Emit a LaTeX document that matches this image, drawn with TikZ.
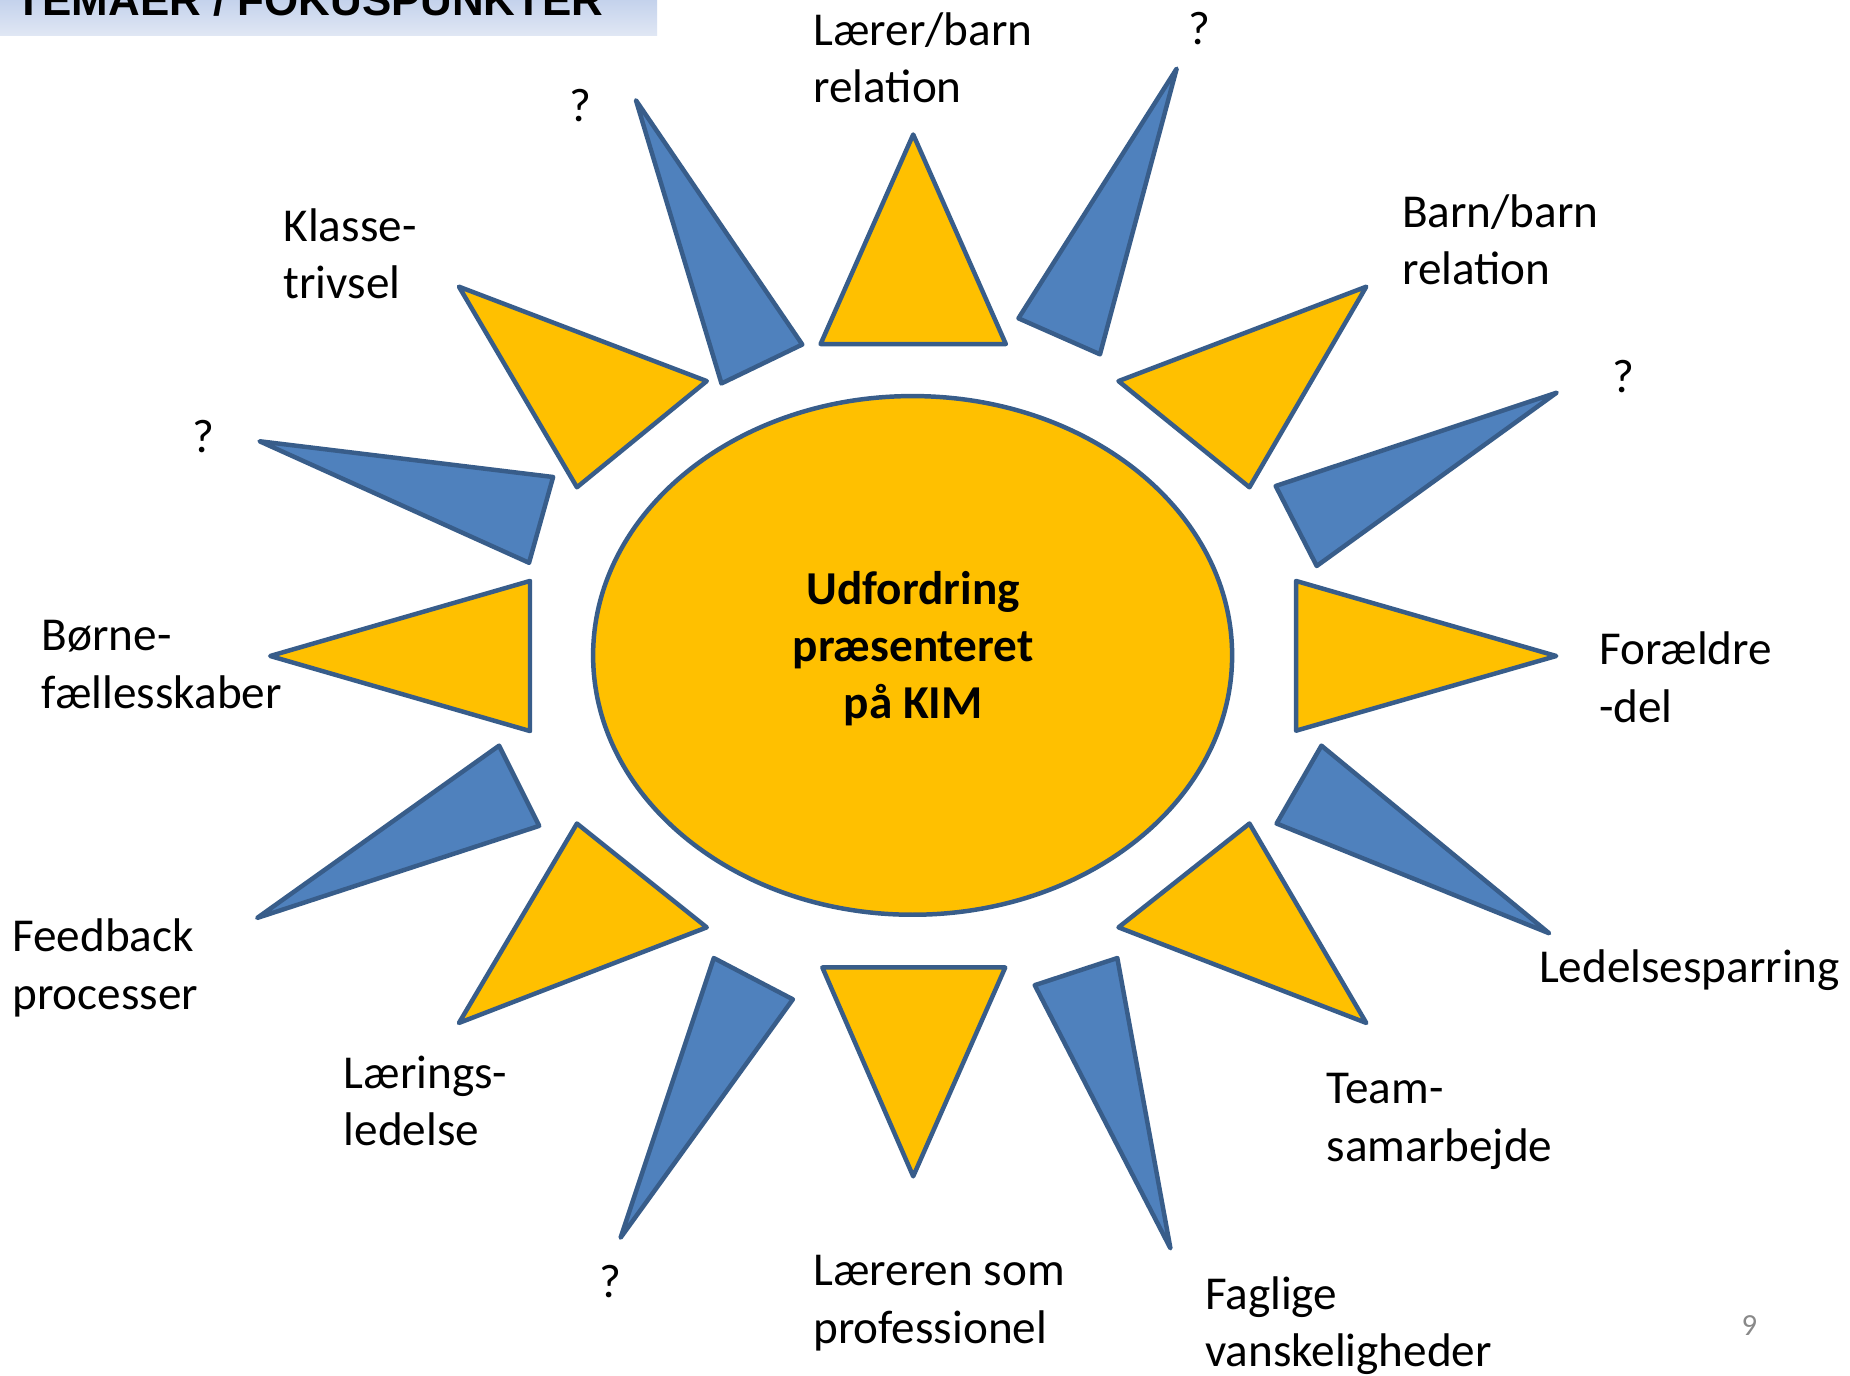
\documentclass[tikz,border=0pt]{standalone}
\usepackage{fontspec}
\setmainfont{Carlito}
\newfontfamily\titlefont{Liberation Sans}
\usetikzlibrary{shapes.geometric}
\definecolor{sunyellow}{HTML}{FFC000}
\definecolor{rayblue}{HTML}{4F81BD}
\definecolor{edgeblue}{HTML}{385D8A}
\definecolor{bannertop}{RGB}{196,210,236}
\definecolor{bannerbot}{RGB}{224,231,244}
\definecolor{pagegrey}{RGB}{137,137,137}
\newcommand\twoline[2]{\begin{tabular}[t]{@{}l@{}}#1\\#2\end{tabular}}
\begin{document}
\begin{tikzpicture}[x=0.5pt,y=-0.5pt,
  ray/.style={draw=edgeblue,line width=1.9pt,line join=round},
  yray/.style={ray,fill=sunyellow},
  bray/.style={ray,fill=rayblue},
  lbl/.style={anchor=base west,inner sep=0pt,font=\fontsize{20}{24.3}\selectfont},
  qm/.style={anchor=base,inner sep=0pt,font=\fontsize{20}{24.3}\selectfont}]
\useasboundingbox (0,0) rectangle (1568,1166);
\fill[white] (0,0) rectangle (1568,1166);
\begin{scope}
\clip (0,0) rectangle (1568,1166);
\shade[top color=bannertop,bottom color=bannerbot] (0,0) rectangle (557,30);
\node[anchor=base west,inner sep=0pt,font=\titlefont\bfseries\fontsize{18.6}{20}\selectfont] (title) at (13,13) {TEMAER / FOKUSPUNKTER};
\end{scope}

% yellow rays
\draw[yray] (774,114) -- (852.5,291.6) -- (695.5,291.6) -- cycle;
\draw[yray] (1158,243) -- (1059,413) -- (948,323) -- cycle;
\draw[yray] (1319,556) -- (1098.5,619.3) -- (1098.5,492.4) -- cycle;
\draw[yray] (1158,867) -- (948,786) -- (1059,698) -- cycle;
\draw[yray] (774,997) -- (697,820) -- (852,820) -- cycle;
\draw[yray] (389,867) -- (489,698) -- (599,786) -- cycle;
\draw[yray] (229,556) -- (449.2,492.4) -- (449.2,619.6) -- cycle;
\draw[yray] (389,243) -- (599,323) -- (489,413) -- cycle;

% blue rays
\draw[bray] (539,85) -- (680,292) -- (611.5,325) -- cycle;
\draw[bray] (997.3,58.2) -- (932.3,300.3) -- (863.2,269.8) -- cycle;
\draw[bray] (1319.4,332.8) -- (1116,479.7) -- (1081.2,411.9) -- cycle;
\draw[bray] (1313,791) -- (1082,698) -- (1120,632) -- cycle;
\draw[bray] (992,1058) -- (877,835) -- (947,812) -- cycle;
\draw[bray] (526,1049) -- (605,812) -- (672,847) -- cycle;
\draw[bray] (218,778) -- (423,632) -- (457,700) -- cycle;
\draw[bray] (220,374) -- (468.8,404.3) -- (448.4,477) -- cycle;

% sun
\node[ellipse,draw=edgeblue,fill=sunyellow,line width=1.9pt,minimum width=270.8pt,minimum height=219.8pt,inner sep=0pt] (sun) at (773.5,555.5) {};
\node[anchor=base,inner sep=0pt,font=\bfseries\fontsize{20}{24.3}\selectfont] (suntext) at (774,512) {\begin{tabular}[t]{@{}c@{}}Udfordring\\præsenteret\\på KIM\end{tabular}};

% labels
\node[lbl] (laererbarn) at (689,38.7) {\twoline{Lærer/barn}{relation}};
\node[lbl] (klasse) at (240,204.6) {\twoline{Klasse-}{trivsel}};
\node[lbl] (barnbarn) at (1188,192.6) {\twoline{Barn/barn}{relation}};
\node[lbl] (boerne) at (35,551.6) {\twoline{Børne-}{fællesskaber}};
\node[lbl] (foraeldre) at (1355,563.6) {\twoline{Forældre}{-del}};
\node[lbl] (feedback) at (10,806.6) {\twoline{Feedback}{processer}};
\node[lbl] (ledelse) at (1304,832.6) {Ledelsesparring};
\node[lbl] (laerings) at (291,922.6) {\twoline{Lærings-}{ledelse}};
\node[lbl] (team) at (1124,935.6) {\twoline{Team-}{samarbejde}};
\node[lbl] (laereren) at (689,1089.7) {\twoline{Læreren som}{professionel}};
\node[lbl] (faglige) at (1021,1109.6) {\twoline{Faglige}{vanskeligheder}};

\node[qm] (q1) at (1017,37.6) {?};
\node[qm] (q2) at (492,102.6) {?};
\node[qm] (q3) at (1376,332.6) {?};
\node[qm] (q4) at (172,383.6) {?};
\node[qm] (q5) at (517,1099.6) {?};

\node[anchor=base,inner sep=0pt,text=pagegrey,font=\fontsize{13}{15}\selectfont] (pg) at (1482.7,1131.6) {9};
\end{tikzpicture}
\end{document}
